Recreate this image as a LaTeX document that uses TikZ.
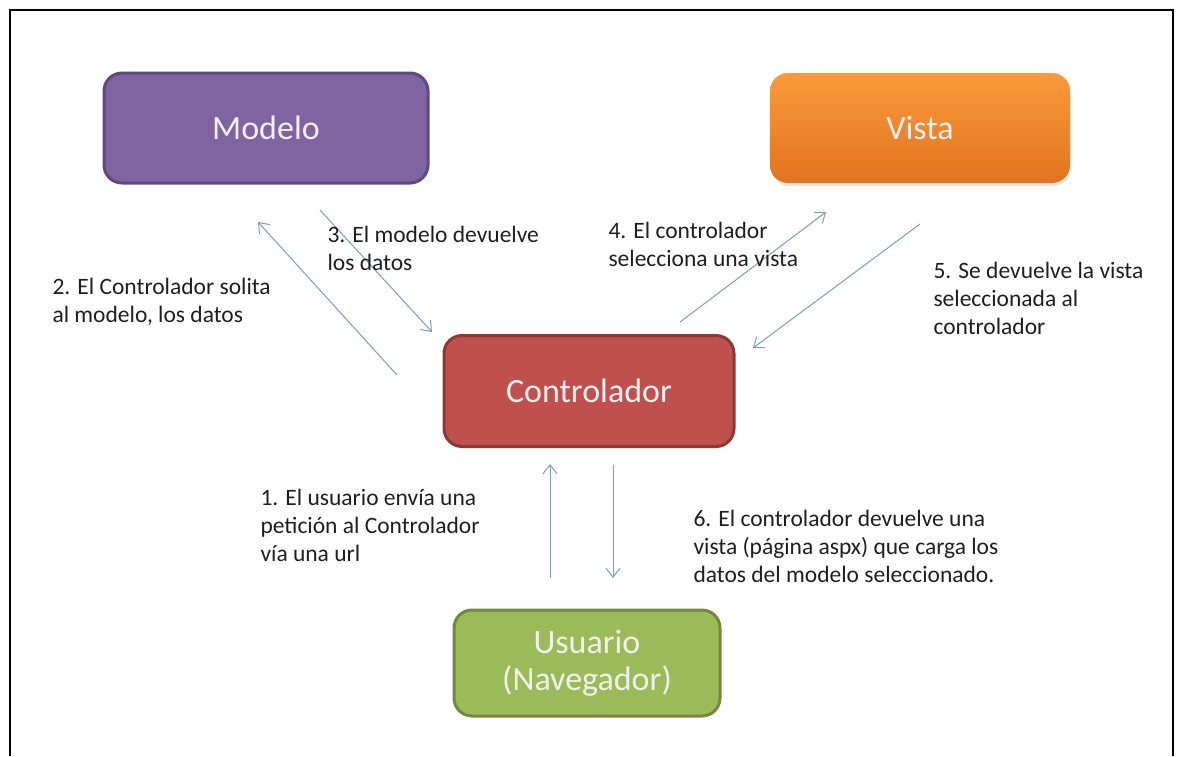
\documentclass[tikz,border=0pt]{standalone}
\usepackage{fontspec}
\setmainfont{Carlito}
\usetikzlibrary{arrows.meta,shadows}
\definecolor{modelofill}{HTML}{8064A2}
\definecolor{modelodraw}{HTML}{5E4A7E}
\definecolor{vistatop}{HTML}{FA9A3C}
\definecolor{vistabot}{HTML}{E2731E}
\definecolor{ctrlfill}{HTML}{C0504D}
\definecolor{ctrldraw}{HTML}{8E3835}
\definecolor{userfill}{HTML}{9BBB59}
\definecolor{userdraw}{HTML}{718A3F}
\definecolor{flechacol}{HTML}{7C9CC0}
\tikzset{
every picture/.style={
line width=1pt
}}

\begin{document}
\begin{tikzpicture}[x=1pt, y=-1pt,
caja/.style = {rectangle, rounded corners=18pt, line width=3pt, text=white!94!black,
  font=\fontsize{34}{37}\selectfont, align=center, inner sep=0pt},
nota/.style = {anchor=north west, align=left, inner sep=0pt, text=black!88,
  font=\fontsize{23.5}{28}\selectfont},
flecha/.style = {-{Straight Barb[length=9pt,width=14pt]}, line width=1pt, draw=flechacol}]

\useasboundingbox (0,0) rectangle (1184,756);
\draw[line width=2.5pt] (10,756) -- (10,10) -- (1173,10) -- (1173,756);

\node [caja, draw=modelodraw, fill=modelofill, minimum width=324, minimum height=110] at (266,128) (modelo) {Modelo};
\node [caja, draw=none, top color=vistatop, bottom color=vistabot, minimum width=300, minimum height=110,
  drop shadow={opacity=0.2, shadow xshift=1pt, shadow yshift=-3pt}] at (920,128) (vista) {Vista};
\node [caja, draw=ctrldraw, fill=ctrlfill, minimum width=290, minimum height=111] at (589,391) (ctrl) {Controlador};
\node [caja, draw=userdraw, fill=userfill, minimum width=266, minimum height=106] at (587,663) (usuario) {Usuario\\(Navegador)};

% extremos de las flechas
\coordinate (p2a) at (397,375); \coordinate (p2b) at (258,222);
\coordinate (p3a) at (320,210); \coordinate (p3b) at (432,332);
\coordinate (p4a) at (680,322); \coordinate (p4b) at (826,212);
\coordinate (p5a) at (920,224); \coordinate (p5b) at (753,348);
\coordinate (p1a) at (550,578); \coordinate (p1b) at (550,464);
\coordinate (p6a) at (613,465); \coordinate (p6b) at (613,578);

\draw[flecha] (p2a) -- (p2b);
\draw[flecha] (p3a) -- (p3b);
\draw[flecha] (p4a) -- (p4b);
\draw[flecha] (p5a) -- (p5b);
\draw[flecha] (p1a) -- (p1b);
\draw[flecha] (p6a) -- (p6b);

\node [nota] at (52,278) (n2) {2. El Controlador solita\\al modelo, los datos};
\node [nota] at (327,226) (n3) {3. El modelo devuelve\\los datos};
\node [nota] at (608,222) (n4) {4. El controlador\\selecciona una vista};
\node [nota] at (933,262) (n5) {5. Se devuelve la vista\\seleccionada al\\controlador};
\node [nota] at (260,489) (n1) {1. El usuario envía una\\petición al Controlador\\vía una url};
\node [nota] at (693,510) (n6) {6. El controlador devuelve una\\vista (página aspx) que carga los\\datos del modelo seleccionado.};

\end{tikzpicture}
\end{document}
